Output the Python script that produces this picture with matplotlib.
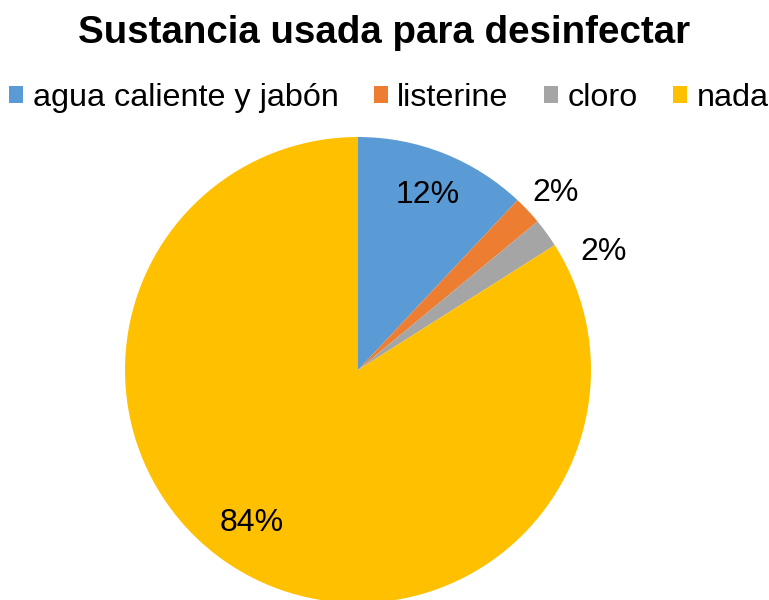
import numpy as np
import matplotlib.pyplot as plt
from matplotlib.patches import Patch

plt.rcParams['font.family'] = ['Liberation Sans', 'DejaVu Sans']

categories = ['agua caliente y jabón', 'listerine', 'cloro', 'nada']
values = [12, 2, 2, 84]
colors = ['#5B9BD5', '#ED7D31', '#A5A5A5', '#FFC000']

# label placement (radius fraction, angle nudge in degrees)
label_dist = [0.81, 1.14, 1.17, 0.80]
label_nudge = [0, -1.3, -10.4, -6]

W, H = 769, 600
fig = plt.figure(figsize=(W / 100, H / 100), dpi=100)

cx, cy, r = 358, 370, 233
ax = fig.add_axes([(cx - r) / W, (H - cy - r) / H, 2 * r / W, 2 * r / H])
wedges, _ = ax.pie(values, colors=colors, startangle=90, counterclock=False,
                   radius=1, wedgeprops=dict(linewidth=0))
ax.set_xlim(-1, 1)
ax.set_ylim(-1, 1)
ax.axis('off')

total = sum(values)
for w, v, d, n in zip(wedges, values, label_dist, label_nudge):
    ang = np.deg2rad((w.theta1 + w.theta2) / 2 + n)
    ax.text(d * np.cos(ang), d * np.sin(ang), f"{v / total * 100:.0f}%",
            ha='center', va='center', fontsize=23, color='black', clip_on=False)

fig.text(0.5 * (79 + 690) / W, 1 - 33 / H, 'Sustancia usada para desinfectar',
         ha='center', va='center', fontsize=27.7, fontweight='bold')

handles = [Patch(facecolor=c, edgecolor='none') for c in colors]
fig.legend(handles, categories, loc='center', bbox_to_anchor=(389 / W, 1 - 98 / H),
           ncol=4, frameon=False, fontsize=23.3, handlelength=0.42, handleheight=0.42,
           handletextpad=0.3, columnspacing=1.1, borderpad=0, borderaxespad=0)

fig.savefig('out.png', dpi=100)
